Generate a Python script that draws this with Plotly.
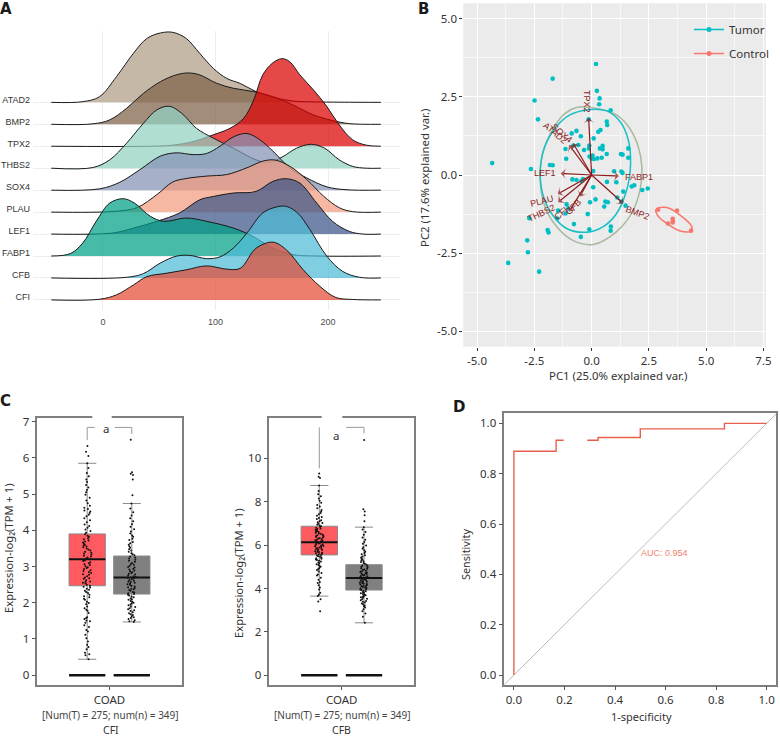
import plotly.graph_objects as go

W, H = 780, 736

# ---------- Panel A data ----------
genes = ["ATAD2", "BMP2", "TPX2", "THBS2", "SOX4", "PLAU", "LEF1", "FABP1", "CFB", "CFI"]
ridge_colors = ["#B09C85", "#7E6148", "#DC0000", "#91D1C2", "#8491B4",
                "#F39B7F", "#3C5488", "#00A087", "#4DBBD5", "#E64B35"]
atad2_x = [-46, -18, -3, 12, 27, 39, 51, 62, 74, 86, 98, 110, 122, 136, 151, 169, 190, 247]
atad2_h = [0, .03, .26, 1.17, 2.23, 2.91, 3.16, 3.19, 2.91, 2.23, 1.55, 1.09, .86, .49, .23, .06, .02, 0]
bmp2_x = [-46, -9, 6, 21, 36, 51, 65, 76, 86, 101, 116, 134, 151, 169, 187, 204, 219, 247]
bmp2_h = [0, .02, .2, .73, 1.41, 1.94, 2.25, 2.34, 2.25, 1.87, 1.64, 1.49, 1.26, .88, .43, .17, .03, 0]
tpx2_x = [-46, 42, 62, 80, 98, 113, 125, 134, 142, 151, 159, 166, 175, 187, 199, 210, 222, 234, 247]
tpx2_h = [0, 0, .05, .21, .52, .82, 1.27, 2.11, 3.25, 3.8, 3.99, 3.85, 3.25, 2.57, 1.81, .97, .29, .05, 0]
thbs2_x = [-46, -9, 6, 21, 36, 48, 59, 70, 83, 98, 116, 136, 148, 160, 172, 185, 197, 210, 222, 234, 247]
thbs2_h = [0, .03, .38, 1.14, 2.05, 2.66, 2.82, 2.5, 1.82, 1.37, .91, .38, .27, .53, .91, 1.09, .91, .38, .08, 0, 0]
sox4_x = [-46, -3, 15, 33, 51, 65, 80, 92, 104, 116, 128, 139, 151, 166, 181, 199, 216, 247]
sox4_h = [0, .06, .36, .94, 1.55, 1.7, 1.62, 1.67, 2.0, 2.43, 2.58, 2.31, 1.78, 1.02, .56, .15, .02, 0]
plau_x = [-46, 9, 30, 48, 62, 74, 92, 110, 128, 142, 153, 166, 181, 196, 210, 222, 247]
plau_h = [0, .03, .2, .8, 1.37, 1.53, 1.64, 1.71, 2.02, 2.32, 2.37, 2.09, 1.49, .73, .2, .02, 0]
lef1_x = [-46, 9, 27, 48, 68, 86, 98, 116, 136, 151, 163, 175, 190, 204, 219, 231, 247]
lef1_h = [0, .05, .27, .58, .96, 1.56, 1.71, 1.87, 1.94, 2.4, 2.52, 2.32, 1.41, .58, .12, 0, 0]
fabp1_x = [-46, -29, -18, -6, 6, 18, 28, 42, 54, 74, 92, 116, 133, 151, 169, 190, 247]
fabp1_h = [0, .11, .59, 1.58, 2.41, 2.61, 2.41, 1.81, 1.58, 1.73, 1.58, 1.27, .9, .36, .06, 0, 0]
cfb_x = [-46, 21, 36, 51, 65, 77, 92, 104, 116, 128, 142, 154, 163, 173, 184, 199, 213, 228, 247]
cfb_h = [0, .03, .2, .68, .99, 1.03, .88, .96, 1.37, 2.05, 2.96, 3.23, 3.26, 2.96, 2.2, .99, .3, .03, 0]
cfi_x = [-46, -3, 12, 27, 39, 56, 74, 92, 110, 122, 136, 151, 163, 178, 193, 207, 222, 247]
cfi_h = [0, .03, .23, .68, 1.06, 1.21, 1.37, 1.55, 1.4, 1.44, 2.35, 2.63, 2.28, 1.37, .61, .11, .02, 0]
ridge_x = [atad2_x, bmp2_x, tpx2_x, thbs2_x, sox4_x, plau_x, lef1_x, fabp1_x, cfb_x, cfi_x]
ridge_h = [atad2_h, bmp2_h, tpx2_h, thbs2_h, sox4_h, plau_h, lef1_h, fabp1_h, cfb_h, cfi_h]

# ---------- Panel B data ----------
tumor_x = [.19, -1.70, .23, .35, .33, -2.49, .83, -2.34, -.13, .66, .68, .39, .29, -.66, -.87, -.47, .09, -.10, -.12,
           -.58, -.80, -1.14, -.33, .48, .36, .48, 1.60, 1.28, 1.35, .66, 1.6, -.09, .04, 0, .10, .25, .44, -1.11,
           -4.34, -1.82, -1.70, -2.65, .07, .98, 1.30, 1.35, -.84, -.66, -.44, -.38, .67, 1.08, 1.75, 1.86, 2.21,
           2.45, .07, 1.38, 1.12, 1.30, 1.48, .17, -.07, .60, .71, .55, -1.09, -1.02, -1.46, -1.14, -.17, -1.5,
           -2.72, -.77, .84, .83, -.10, -1.92, -1.88, -.47, -2.81, -2.78, -3.64, -2.29]
tumor_y = [3.55, 3.08, 2.69, 2.45, 2.26, 2.38, 2.07, 1.78, 1.78, 1.71, 1.60, 1.44, 1.38, 1.41, 1.33, 1.24, 1.17, .94, .85,
           .96, .94, .83, .80, .93, .85, .82, .85, .67, .65, .67, .55, .59, .62, .53, .51, .53, .55, .52,
           .38, .32, .31, .19, .13, .12, .11, .06, -.14, -.16, -.19, -.13, -.22, -.23, -.37, -.33, -.48,
           -.43, -.39, -.53, -.72, -.85, -.98, -.78, -.87, -.85, -.87, -1.01, -.94, -1.07, -1.14, -1.23, -1.25, -1.39,
           -1.38, -1.57, -1.65, -1.78, -1.74, -1.76, -1.84, -1.98, -2.09, -2.47, -2.81, -3.09]
control_x = [2.90, 3.73, 3.54, 3.54, 3.54, 3.33, 4.34]
control_y = [-1.11, -1.14, -1.40, -1.47, -1.52, -1.55, -1.78]
ell_tumor_x = [-.22, .66, 1.24, 1.60, 1.70, 1.53, 1.09, .51, -.22, -1.09, -1.75, -2.14, -2.24, -2.04, -1.53, -.95, -.22]
ell_tumor_y = [2.08, 2.05, 1.71, 1.12, .37, -.48, -1.23, -1.65, -1.83, -1.71, -1.23, -.59, .16, .91, 1.55, 1.92, 2.08]
ell_all_x = [-.66, .22, 1.09, 1.75, 2.14, 2.18, 1.82, 1.09, .07, -.80, -1.53, -2.04, -2.24, -2.14, -1.67, -1.16, -.66]
ell_all_y = [2.16, 2.13, 1.92, 1.39, .59, -.16, -1.12, -1.81, -2.22, -2.10, -1.65, -1.01, -.21, .69, 1.49, 1.97, 2.16]
ell_ctrl_x = [2.81, 3.28, 3.86, 4.37, 4.34, 3.86, 3.28, 2.87, 2.81]
ell_ctrl_y = [-1.10, -1.04, -1.28, -1.65, -1.79, -1.79, -1.55, -1.28, -1.10]
arrow_genes = ["TPX2", "SOX4", "ATAD2", "LEF1", "FABP1", "BMP2", "PLAU", "THBS2", "CFI", "CFB"]
arrow_x = [-.13, -.80, -.98, -1.35, 1.19, 1.38, -1.48, -1.46, -.98, -.51]
arrow_y = [1.83, 1.01, .96, .05, -.03, -.91, -.61, -.87, -1.17, -.69]
label_x = [-.22, -1.31, -1.60, -2.02, 2.07, 2.01, -2.15, -2.18, -1.31, -.80]
label_y = [2.35, 1.35, 1.33, .06, -.07, -1.23, -.83, -1.23, -1.23, -1.01]
label_angle = [90, 40, 40, 0, 0, 20, -15, -25, -40, -45]

# ---------- Panel C data ----------
cfi_stats = dict(q1=[2.47, 2.24], median=[3.2, 2.7], q3=[3.9, 3.29], low=[.44, 1.47], up=[5.85, 4.74])
cfb_stats = dict(q1=[5.55, 3.93], median=[6.13, 4.48], q3=[6.87, 5.1], low=[3.65, 2.42], up=[8.75, 6.83])
cfi_tumor = [.44, .55, .58, .62, .72, .78, .84, .93, 1.02, 1.12, 1.21, 1.25, 1.33, 1.38, 1.45, 1.49, 1.51, 1.55, 1.58,
             1.6, 1.72, 1.78, 1.81, 1.85, 1.9, 1.96, 1.99, 2.03, 2.08, 2.11, 2.15, 2.18, 2.22, 2.27, 2.3, 2.33, 2.36,
             2.39, 2.42, 2.44, 2.47, 2.5, 2.53, 2.55, 2.57, 2.59, 2.62, 2.66, 2.68, 2.7, 2.73, 2.77, 2.79, 2.82, 2.85,
             2.88, 2.9, 2.93, 2.96, 2.98, 3.01, 3.04, 3.06, 3.09, 3.12, 3.15, 3.17, 3.2, 3.22, 3.25, 3.28, 3.3, 3.33,
             3.36, 3.38, 3.41, 3.44, 3.47, 3.5, 3.53, 3.55, 3.58, 3.6, 3.63, 3.66, 3.69, 3.72, 3.75, 3.78, 3.82, 3.85,
             3.89, 3.93, 3.98, 4.02, 4.07, 4.12, 4.16, 4.22, 4.28, 4.33, 4.39, 4.43, 4.48, 4.52, 4.55, 4.59, 4.62,
             4.68, 4.75, 4.82, 4.9, 4.98, 5.05, 5.11, 5.18, 5.25, 5.33, 5.4, 5.49, 5.58, 5.72, 5.85, 6.05, 6.17, 6.33]
cfi_normal = [1.47, 1.49, 1.52, 1.55, 1.58, 1.6, 1.63, 1.66, 1.68, 1.71, 1.74, 1.77, 1.79, 1.82, 1.85, 1.88, 1.9, 1.93,
              1.95, 1.98, 2.0, 2.03, 2.05, 2.08, 2.1, 2.12, 2.15, 2.17, 2.2, 2.22, 2.24, 2.26, 2.28, 2.3, 2.33, 2.35,
              2.37, 2.39, 2.41, 2.43, 2.45, 2.47, 2.49, 2.51, 2.53, 2.55, 2.57, 2.59, 2.61, 2.63, 2.65, 2.67, 2.69,
              2.71, 2.73, 2.75, 2.78, 2.8, 2.82, 2.84, 2.87, 2.89, 2.92, 2.94, 2.97, 2.99, 3.02, 3.05, 3.07, 3.1, 3.13,
              3.16, 3.19, 3.22, 3.25, 3.28, 3.31, 3.34, 3.37, 3.41, 3.44, 3.48, 3.52, 3.56, 3.6, 3.64, 3.68, 3.73, 3.77,
              3.82, 3.86, 3.91, 3.97, 4.03, 4.1, 4.17, 4.25, 4.33, 4.41, 4.5, 4.6, 4.74, 4.97, 5.4, 5.53, 5.56, 5.6, 6.5]
cfb_tumor = [2.95, 3.4, 3.5, 3.65, 3.72, 3.8, 3.95, 4.05, 4.15, 4.25, 4.3, 4.4, 4.5, 4.6, 4.65, 4.72, 4.78, 4.85, 4.9,
             4.95, 5.0, 5.04, 5.08, 5.12, 5.16, 5.2, 5.24, 5.28, 5.31, 5.34, 5.37, 5.4, 5.43, 5.46, 5.49, 5.52, 5.55,
             5.58, 5.6, 5.63, 5.65, 5.68, 5.7, 5.72, 5.75, 5.77, 5.8, 5.82, 5.84, 5.87, 5.89, 5.91, 5.94, 5.96, 5.98,
             6.0, 6.03, 6.05, 6.07, 6.1, 6.12, 6.14, 6.16, 6.18, 6.21, 6.23, 6.25, 6.28, 6.3, 6.32, 6.35, 6.37, 6.39,
             6.42, 6.44, 6.46, 6.49, 6.52, 6.54, 6.57, 6.6, 6.62, 6.65, 6.68, 6.71, 6.74, 6.77, 6.8, 6.84, 6.87, 6.9,
             6.94, 6.98, 7.02, 7.06, 7.1, 7.15, 7.2, 7.25, 7.3, 7.35, 7.42, 7.48, 7.55, 7.62, 7.7, 7.78, 7.85, 7.95,
             8.05, 8.15, 8.25, 8.35, 8.5, 8.75, 9.1, 9.15, 9.3]
cfb_normal = [2.42, 2.7, 2.85, 2.95, 3.05, 3.12, 3.18, 3.22, 3.27, 3.31, 3.35, 3.39, 3.43, 3.46, 3.5, 3.53, 3.57, 3.6,
              3.63, 3.66, 3.69, 3.72, 3.75, 3.78, 3.81, 3.84, 3.87, 3.9, 3.92, 3.95, 3.97, 4.0, 4.02, 4.05, 4.07, 4.1,
              4.12, 4.14, 4.16, 4.19, 4.21, 4.23, 4.25, 4.27, 4.29, 4.31, 4.34, 4.36, 4.38, 4.4, 4.42, 4.45, 4.47, 4.49,
              4.51, 4.53, 4.56, 4.58, 4.6, 4.62, 4.65, 4.67, 4.69, 4.72, 4.74, 4.77, 4.8, 4.82, 4.85, 4.88, 4.91, 4.94,
              4.97, 5.0, 5.03, 5.06, 5.1, 5.14, 5.18, 5.22, 5.26, 5.3, 5.34, 5.38, 5.43, 5.48, 5.53, 5.58, 5.64, 5.7,
              5.76, 5.83, 5.9, 5.98, 6.06, 6.15, 6.25, 6.35, 6.48, 6.6, 6.72, 6.83, 7.1, 7.38, 7.55, 7.65, 10.85]
group_fill = ["#FF5A5F", "#808080"]

# ---------- Panel D data ----------
roc_x = [0, 0, .167, .167, .197, None, .29, .333, .333, .5, .5, .833, .833, 1]
roc_y = [0, .889, .889, .933, .933, None, .933, .933, .944, .944, .978, .978, 1, 1]

SANS = "Noto Sans"
ARIAL = "Liberation Sans"
TXT = "#333333"


def dom(a, b, size):
    return [a / size, b / size]


def ydom(top, bottom):
    return [1 - bottom / H, 1 - top / H]


fig = go.Figure()

# ---------- Panel A ----------
for i, g in enumerate(genes):
    row = len(genes) - 1 - i
    xs, hs = ridge_x[i], ridge_h[i]
    c = ridge_colors[i].lstrip("#")
    rgba = "rgba(%d,%d,%d,0.72)" % (int(c[:2], 16), int(c[2:4], 16), int(c[4:], 16))
    fig.add_trace(go.Scatter(x=xs, y=[row] * len(xs), mode="lines", line=dict(width=0, color="rgba(0,0,0,0)"),
                             showlegend=False, hoverinfo="skip", xaxis="x", yaxis="y"))
    fig.add_trace(go.Scatter(x=xs, y=[row + v for v in hs], mode="lines", fill="tonexty", fillcolor=rgba,
                             line=dict(color="#1a1a1a", width=1, shape="spline", smoothing=1),
                             showlegend=False, name=g, xaxis="x", yaxis="y"))

# ---------- Panel B ----------
axb = dict(xaxis="x2", yaxis="y2")
fig.add_trace(go.Scatter(x=ell_all_x, y=ell_all_y, mode="lines", showlegend=False,
                         line=dict(color="#A8B8A0", width=1.5, shape="spline"), **axb))
fig.add_trace(go.Scatter(x=ell_tumor_x, y=ell_tumor_y, mode="lines", showlegend=False,
                         line=dict(color="#18BFC4", width=1.5, shape="spline"), **axb))
fig.add_trace(go.Scatter(x=ell_ctrl_x, y=ell_ctrl_y, mode="lines", showlegend=False,
                         line=dict(color="#F8766D", width=1.5, shape="spline"), **axb))
fig.add_trace(go.Scatter(x=tumor_x, y=tumor_y, mode="markers", showlegend=False,
                         marker=dict(color="#00BFC4", size=4.6), **axb))
fig.add_trace(go.Scatter(x=control_x, y=control_y, mode="markers", showlegend=False,
                         marker=dict(color="#F8766D", size=4.6), **axb))
fig.add_trace(go.Scatter(x=[None], y=[None], mode="lines+markers", name="Tumor",
                         line=dict(color="#00BFC4", width=1.5), marker=dict(color="#00BFC4", size=5),
                         legendgroup="t", **axb))
fig.add_trace(go.Scatter(x=[None], y=[None], mode="lines+markers", name="Control",
                         line=dict(color="#F8766D", width=1.5), marker=dict(color="#F8766D", size=5),
                         legendgroup="c", **axb))

annotations = []
for gx, gy, lx, ly, ang, name in zip(arrow_x, arrow_y, label_x, label_y, label_angle, arrow_genes):
    fig.add_trace(go.Scatter(x=[0, gx], y=[0, gy], mode="lines+markers", showlegend=False, name=name,
                             line=dict(color="#8B1A1A", width=1.2),
                             marker=dict(symbol="arrow-wide", size=[0, 8], angleref="previous", color="#8B1A1A",
                                         line=dict(width=0)), **axb))
    annotations.append(dict(x=lx, y=ly, xref="x2", yref="y2", text=name, showarrow=False, textangle=ang,
                            font=dict(family=ARIAL, size=9, color="#8B2020")))

# ---------- Panel C ----------
for xa, ya, stats, samples in (("x3", "y3", cfi_stats, (cfi_tumor, cfi_normal)),
                               ("x4", "y4", cfb_stats, (cfb_tumor, cfb_normal))):
    for k in range(2):
        fig.add_trace(go.Box(x=[k], q1=[stats["q1"][k]], median=[stats["median"][k]], q3=[stats["q3"][k]],
                             lowerfence=[stats["low"][k]], upperfence=[stats["up"][k]], width=.814,
                             whiskerwidth=.5, fillcolor=group_fill[k], line=dict(color="#8a8a8a", width=1),
                             boxpoints=False, showlegend=False, xaxis=xa, yaxis=ya))
        fig.add_trace(go.Box(x0=k, y=samples[k], width=.814, boxpoints="all", jitter=.24, pointpos=0,
                             fillcolor="rgba(0,0,0,0)", line=dict(width=0, color="rgba(0,0,0,0)"),
                             marker=dict(color="#111111", size=2), showlegend=False, xaxis=xa, yaxis=ya))
        fig.add_trace(go.Scatter(x=[k - .407, k + .407], y=[stats["median"][k]] * 2, mode="lines",
                                 line=dict(color="#111111", width=2), showlegend=False, xaxis=xa, yaxis=ya))
        fig.add_trace(go.Scatter(x=[k - .407, k + .407], y=[0, 0], mode="lines",
                                 line=dict(color="#111111", width=2.6), showlegend=False, xaxis=xa, yaxis=ya))

fig.add_trace(go.Scatter(x=[0, 0, .17, None, .62, 1, 1], y=[6.49, 6.84, 6.84, None, 6.84, 6.84, 6.66], mode="lines",
                         line=dict(color="#999999", width=1), showlegend=False, xaxis="x3", yaxis="y3"))
fig.add_trace(go.Scatter(x=[0, 0, None, .6, 1, 1], y=[9.54, 11.43, None, 11.43, 11.43, 11.15], mode="lines",
                         line=dict(color="#999999", width=1), showlegend=False, xaxis="x4", yaxis="y4"))

# ---------- Panel D ----------
fig.add_trace(go.Scatter(x=[-.04, 1.04], y=[-.04, 1.04], mode="lines", line=dict(color="#BDBDBD", width=1),
                         showlegend=False, xaxis="x5", yaxis="y5"))
fig.add_trace(go.Scatter(x=roc_x, y=roc_y, mode="lines", line=dict(color="#E8604C", width=1.4),
                         showlegend=False, xaxis="x5", yaxis="y5"))

annotations.append(dict(x=.597, y=.486, xref="x5", yref="y5", text="AUC: 0.954", showarrow=False,
                        font=dict(family=ARIAL, size=9, color="#F07F6F")))


def ptext(px, py, text, size=11, family=SANS, color=TXT, angle=0, bold=False):
    annotations.append(dict(x=px / W, y=1 - py / H, xref="paper", yref="paper", text=("<b>%s</b>" % text) if bold else text,
                            showarrow=False, textangle=angle, xanchor="center", yanchor="middle",
                            font=dict(family=family, size=size, color=color)))


ptext(5.5, 9, "A", 15, "DejaVu Sans", "#1a1a1a", bold=True)
ptext(423.5, 9, "B", 15, "DejaVu Sans", "#1a1a1a", bold=True)
ptext(5.5, 401, "C", 15, "DejaVu Sans", "#1a1a1a", bold=True)
ptext(458.5, 407.5, "D", 15, "DejaVu Sans", "#1a1a1a", bold=True)
ptext(105.7, 428.5, "a", 11.5)
ptext(335.7, 435.5, "a", 11.5)
ptext(110, 714.5, "[Num(T) = 275; num(n) = 349]", 10, color="#444444")
ptext(342, 714.5, "[Num(T) = 275; num(n) = 349]", 10, color="#444444")
ptext(110.5, 729.5, "CFI", 10.5)
ptext(341.5, 729.5, "CFB", 10.5)
ptext(617.7, 375, "PC1 (25.0% explained var.)", 11.4)
ptext(424, 178, "PC2 (17.6% explained var.)", 11.4, angle=-90)
ptext(641.7, 716, "1-specificity", 11)
ptext(465, 555, "Sensitivity", 10.8, angle=-90)
ptext(8, 548, "Expression-log₂(TPM + 1)", 11.2, angle=-90)
ptext(238, 573, "Expression-log₂(TPM + 1)", 11.2, angle=-90)

# white patches that break the frame of panel C
shapes = []
for a, b in ((92.3, 111.7), (321.7, 342.3)):
    shapes.append(dict(type="rect", xref="paper", yref="paper", x0=a / W, x1=b / W, y0=1 - 421 / H, y1=1 - 414 / H,
                       fillcolor="white", line=dict(width=0), layer="above"))
shapes.append(dict(type="rect", xref="x2 domain", yref="y2 domain", x0=0, x1=1, y0=0, y1=1,
                   fillcolor="#EBEBEB", line=dict(width=0), layer="below"))

gridA = "#EDEDED"
frame = dict(showline=True, mirror=True, linecolor="#7F7F7F", linewidth=1.5, zeroline=False, showgrid=False,
             ticks="outside", ticklen=4, tickcolor="#555555", tickfont=dict(family=SANS, size=11.5, color=TXT))
xc = dict(frame, range=[-1.119, 2.119], tickvals=[.5], ticktext=["COAD"], ticklen=3,
          tickfont=dict(family=SANS, size=11.5, color=TXT))

fig.update_layout(
    width=W, height=H, margin=dict(l=0, r=0, t=0, b=0), paper_bgcolor="white", plot_bgcolor="rgba(0,0,0,0)",
    showlegend=True,
    legend=dict(x=689 / W, y=1 - 15 / H, xanchor="left", yanchor="top", bgcolor="rgba(0,0,0,0)",
                font=dict(family=SANS, size=11.5, color=TXT), tracegroupgap=5),
    annotations=annotations, shapes=shapes,
    xaxis=dict(domain=dom(33, 400, W), anchor="y", range=[-62.2, 264], tickvals=[0, 100, 200], showgrid=True,
               gridcolor=gridA, gridwidth=1, zeroline=False, ticks="", showline=False, ticklabelstandoff=5,
               tickfont=dict(family=ARIAL, size=9, color="#4d4d4d")),
    yaxis=dict(domain=ydom(31, 310), anchor="x", range=[-.46, 12.25], showgrid=False, zeroline=False,
               tickvals=[9.13 - r for r in range(10)], ticktext=genes, ticks="", showline=False, ticklabelstandoff=2,
               tickfont=dict(family=ARIAL, size=9, color="#333333"),
               minor=dict(tickvals=list(range(10)), showgrid=True, gridcolor=gridA, gridwidth=1, ticks="")),
    xaxis2=dict(domain=dom(463.3, 766, W), anchor="y2", range=[-5.6, 7.61], tickvals=[-5, -2.5, 0, 2.5, 5, 7.5],
                ticktext=["-5.0", "-2.5", "0.0", "2.5", "5.0", "7.5"], showgrid=True, gridcolor="white", gridwidth=1.2,
                zeroline=False, ticks="outside", ticklen=3, tickcolor="#333333",
                tickfont=dict(family=SANS, size=11.5, color=TXT),
                minor=dict(tickvals=[-3.75, -1.25, 1.25, 3.75, 6.25], showgrid=True, gridcolor="#F7F7F7", gridwidth=.6)),
    yaxis2=dict(domain=ydom(3.3, 346.7), anchor="x2", range=[-5.49, 5.49], tickvals=[-5, -2.5, 0, 2.5, 5],
                ticktext=["-5.0", "-2.5", "0.0", "2.5", "5.0"], showgrid=True, gridcolor="white", gridwidth=1.2,
                zeroline=False, ticks="outside", ticklen=3, tickcolor="#333333",
                tickfont=dict(family=SANS, size=11.5, color=TXT),
                minor=dict(tickvals=[-3.75, -1.25, 1.25, 3.75], showgrid=True, gridcolor="#F7F7F7", gridwidth=.6)),
    xaxis3=dict(xc, domain=dom(37.3, 181.7, W), anchor="y3"),
    yaxis3=dict(frame, domain=ydom(418, 685), anchor="x3", range=[-.27, 7.1], tickvals=list(range(8))),
    xaxis4=dict(xc, domain=dom(269.3, 414, W), anchor="y4"),
    yaxis4=dict(frame, domain=ydom(418, 685), anchor="x4", range=[-.447, 11.86], tickvals=[0, 2, 4, 6, 8, 10]),
    xaxis5=dict(frame, domain=dom(504.3, 776, W), anchor="y5", range=[-.038, 1.037], tickvals=[0, .2, .4, .6, .8, 1],
                ticktext=["0.0", "0.2", "0.4", "0.6", "0.8", "1.0"]),
    yaxis5=dict(frame, domain=ydom(413.3, 684.7), anchor="x5", range=[-.0385, 1.04], tickvals=[0, .2, .4, .6, .8, 1],
                ticktext=["0.0", "0.2", "0.4", "0.6", "0.8", "1.0"]),
)
fig.update_xaxes(automargin=False)
fig.update_yaxes(automargin=False)

fig.write_html("out.html", config={"displayModeBar": False},
               post_script="document.body.style.margin='0';document.documentElement.style.overflow='hidden';")
